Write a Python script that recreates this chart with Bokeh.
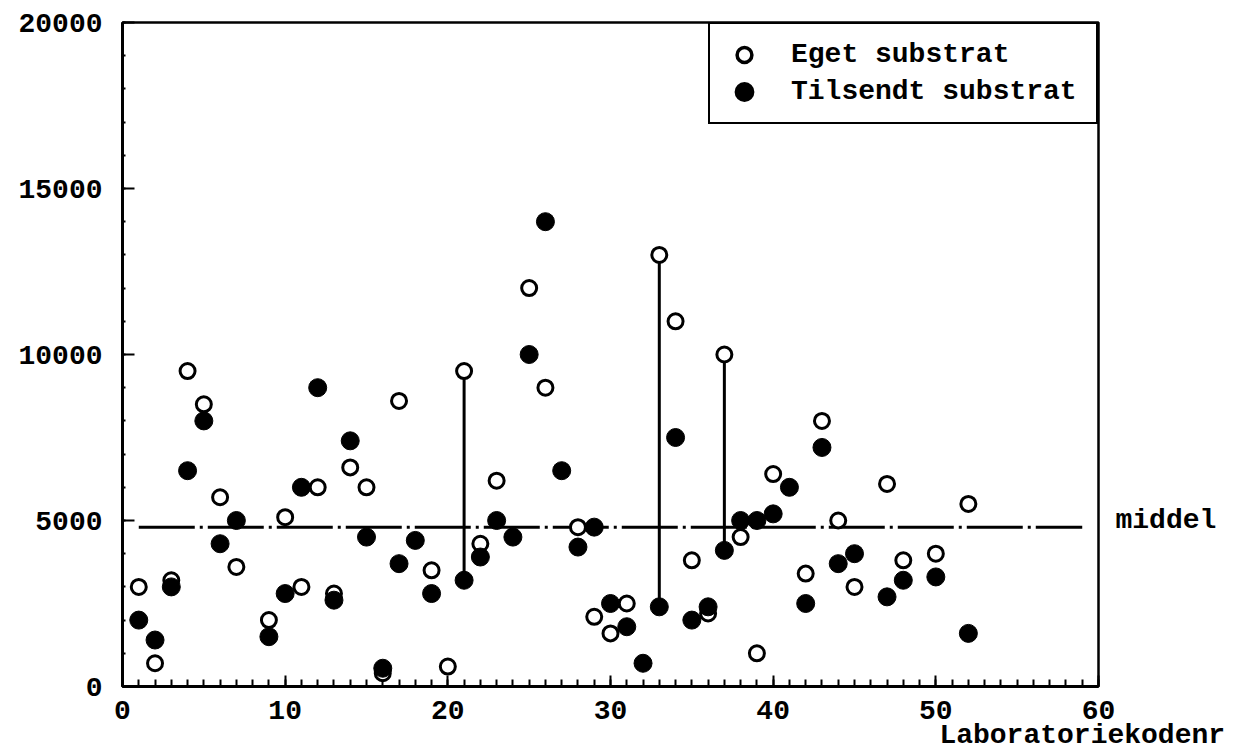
from bokeh.plotting import figure
from bokeh.models import (Range1d, SingleIntervalTicker, FixedTicker, LinearAxis, Legend,
                          LegendItem, ColumnDataSource, BasicTickFormatter)
from bokeh.embed import file_html
from bokeh.resources import INLINE

# ---- data ----
eget_lab = [1, 2, 3, 4, 5, 6, 7, 9, 10, 11, 12, 13, 14, 15, 16, 17, 19, 20, 21, 22, 23,
            25, 26, 28, 29, 30, 31, 33, 34, 35, 36, 37, 38, 39, 40, 42, 43, 44, 45, 47,
            48, 50, 52]
eget_val = [3000, 700, 3200, 9500, 8500, 5700, 3600, 2000, 5100, 3000, 6000, 2800, 6600,
            6000, 400, 8600, 3500, 600, 9500, 4300, 6200, 12000, 9000, 4800, 2100, 1600,
            2500, 13000, 11000, 3800, 2200, 10000, 4500, 1000, 6400, 3400, 8000, 5000,
            3000, 6100, 3800, 4000, 5500]

tils_lab = [1, 2, 3, 4, 5, 6, 7, 9, 10, 11, 12, 13, 14, 15, 16, 17, 18, 19, 21, 22, 23,
            24, 25, 26, 27, 28, 29, 30, 31, 32, 33, 34, 35, 36, 37, 38, 39, 40, 41, 42,
            43, 44, 45, 47, 48, 50, 52]
tils_val = [2000, 1400, 3000, 6500, 8000, 4300, 5000, 1500, 2800, 6000, 9000, 2600, 7400,
            4500, 550, 3700, 4400, 2800, 3200, 3900, 5000, 4500, 10000, 14000, 6500, 4200,
            4800, 2500, 1800, 700, 2400, 7500, 2000, 2400, 4100, 5000, 5000, 5200, 6000,
            2500, 7200, 3700, 4000, 2700, 3200, 3300, 1600]

linked_labs = [21, 33, 37]          # labs whose two results are joined by a line
middel = 4800                        # mean level
middel_span = [1, 59]                # lab range covered by the mean line

series_names = ["Eget substrat", "Tilsendt substrat"]
middel_text = "middel"
x_title = "Laboratoriekodenr"

# ---- layout / style constants ----
X_TITLE_AT = 59                      # axis position under which the x title is centred
MIDDEL_LABEL_LIFT = 200              # small upward nudge of the "middel" text
FONT = "Liberation Mono"
FS = "28px"
NAN = float("nan")

eget_d = dict(zip(eget_lab, eget_val))
tils_d = dict(zip(tils_lab, tils_val))

p = figure(width=1245, height=754, output_backend="svg", toolbar_location=None,
           x_range=Range1d(0, 60), y_range=Range1d(0, 20000),
           min_border_left=122, min_border_right=147, min_border_top=22,
           min_border_bottom=68)
p.border_fill_color = "white"
p.background_fill_color = "white"
p.grid.visible = False
p.outline_line_color = "black"
p.outline_line_alpha = 1
p.outline_line_width = 2.5

p.xaxis.ticker = SingleIntervalTicker(interval=10, num_minor_ticks=10)
p.yaxis.ticker = SingleIntervalTicker(interval=5000, num_minor_ticks=5)
p.yaxis.formatter = BasicTickFormatter(use_scientific=False)
for ax in (p.xaxis, p.yaxis):
    ax.axis_line_width = 3
    ax.axis_line_color = "black"
    ax.major_tick_out = 0
    ax.minor_tick_out = 0
    ax.major_tick_line_width = 2
    ax.minor_tick_line_width = 2
    ax.major_label_text_font = FONT
    ax.major_label_text_font_size = FS
    ax.major_label_text_font_style = "bold"
    ax.major_label_text_color = "black"
p.xaxis.major_tick_in = 11
p.xaxis.minor_tick_in = 7
p.xaxis.major_label_standoff = 14
p.yaxis.major_tick_in = 12
p.yaxis.minor_tick_in = 3
p.yaxis.major_label_standoff = 20

# "middel" written beside the mean line, as the only label of a bare right axis
mid_at = middel + MIDDEL_LABEL_LIFT
mid_axis = LinearAxis(ticker=FixedTicker(ticks=[mid_at]),
                      major_label_overrides={mid_at: middel_text},
                      axis_line_color=None, major_tick_line_color=None,
                      minor_tick_line_color=None, major_label_standoff=11,
                      major_label_text_font=FONT, major_label_text_font_size=FS,
                      major_label_text_font_style="bold", major_label_text_color="black")
p.add_layout(mid_axis, "right")

# x title as the only label of a bare second bottom axis
title_axis = LinearAxis(ticker=FixedTicker(ticks=[X_TITLE_AT]),
                        major_label_overrides={X_TITLE_AT: x_title},
                        axis_line_color=None, major_tick_line_color=None,
                        minor_tick_line_color=None, major_label_standoff=-8,
                        major_label_text_font=FONT, major_label_text_font_size=FS,
                        major_label_text_font_style="bold", major_label_text_color="black")
p.add_layout(title_axis, "below")

# connecting lines
seg = ColumnDataSource(dict(x=linked_labs, y0=[eget_d[k] for k in linked_labs],
                            y1=[tils_d[k] for k in linked_labs]))
p.segment(x0="x", y0="y0", x1="x", y1="y1", source=seg, line_color="black", line_width=3)

# mean line
p.line(x=middel_span, y=[middel, middel], line_color="black", line_width=3,
       line_dash="56 5 3 5")

p.scatter(x=eget_lab, y=eget_val, marker="circle", size=15, fill_color="white",
          line_color="black", line_width=3)
p.scatter(x=tils_lab, y=tils_val, marker="circle", size=18, fill_color="black",
          line_color="black", line_width=1)

# legend-only symbols (NaN position, so nothing is plotted) with heavier outlines
leg_open = p.scatter(x=[NAN], y=[NAN], marker="circle", size=16, fill_color="white",
                     line_color="black", line_width=3.5)
leg_fill = p.scatter(x=[NAN], y=[NAN], marker="circle", size=16, fill_color="black",
                     line_color="black", line_width=5)

legend = Legend(items=[LegendItem(label=series_names[0], renderers=[leg_open]),
                       LegendItem(label=series_names[1], renderers=[leg_fill])],
                location="top_right", margin=0, padding=12, spacing=0,
                glyph_width=44, glyph_height=37, label_standoff=25, label_width=293,
                label_text_font=FONT, label_text_font_size=FS,
                label_text_font_style="bold", label_text_color="black",
                border_line_color="black", border_line_width=2.5, border_line_alpha=1,
                background_fill_color="white", background_fill_alpha=1)
p.add_layout(legend)

open("out.html", "w").write(file_html(p, INLINE))
